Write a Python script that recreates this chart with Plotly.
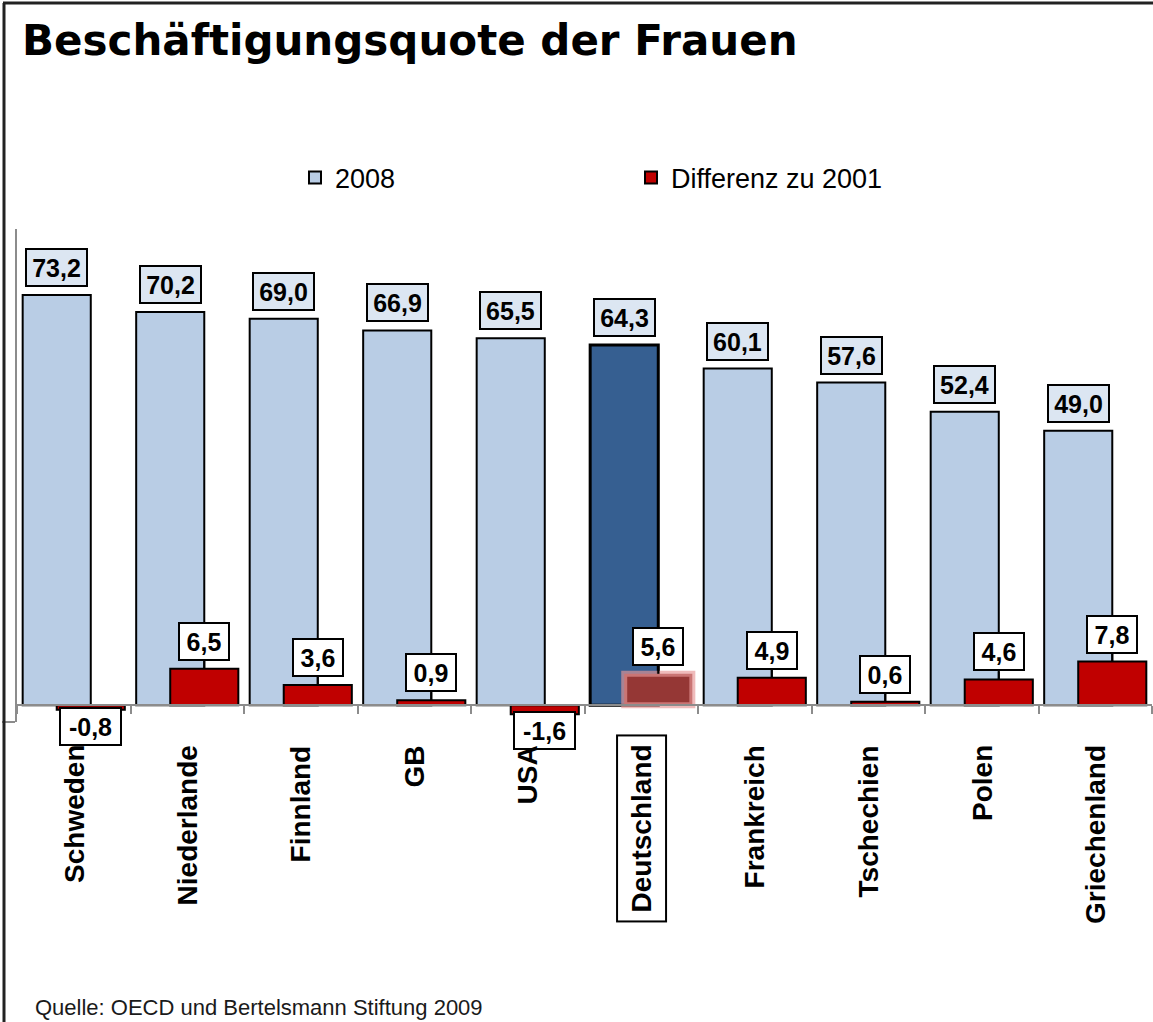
import plotly.graph_objects as go

countries = ["Schweden", "Niederlande", "Finnland", "GB", "USA", "Deutschland",
             "Frankreich", "Tschechien", "Polen", "Griechenland"]
quote_2008 = [73.2, 70.2, 69.0, 66.9, 65.5, 64.3, 60.1, 57.6, 52.4, 49.0]
diff_2001 = [-0.8, 6.5, 3.6, 0.9, -1.6, 5.6, 4.9, 0.6, 4.6, 7.8]
highlight = "Deutschland"

YMIN, YMAX = -3, 85
W, H = 1153, 1022
ML, MR, MT, MB = 17, 1, 229, 300
PW, PH = W - ML - MR, H - MT - MB

BAR_W = 0.6
OFF_BLUE = -0.45
OFF_RED = -0.15

def px_to_paper_x(px):
    return (px - ML) / PW

def px_to_paper_y(py):
    return (H - MB - py) / PH

def fmt(v):
    return f"{v:.1f}".replace(".", ",")

blue_col = ["#365F91" if c == highlight else "#B9CDE5" for c in countries]
blue_lw = [3 if c == highlight else 2 for c in countries]
red_col = ["#953735" if c == highlight else "#C00000" for c in countries]
red_lc = ["rgba(230,150,150,0.65)" if c == highlight else "black" for c in countries]
red_lw = [6 if c == highlight else 2 for c in countries]

fig = go.Figure()
fig.add_bar(name="2008", x=countries, y=quote_2008, offset=OFF_BLUE, width=BAR_W,
            marker=dict(color=blue_col, line=dict(color="black", width=blue_lw)))
fig.add_bar(name="Differenz zu 2001", x=countries, y=diff_2001, offset=OFF_RED, width=BAR_W,
            marker=dict(color=red_col, line=dict(color=red_lc, width=red_lw)))

LABEL_FONT = dict(family="Liberation Sans, Arial", size=25, color="black")
annotations = []
for i, (c, v) in enumerate(zip(countries, quote_2008)):
    t = fmt(v)
    annotations.append(dict(
        x=i + OFF_BLUE + BAR_W / 2, y=v, xref="x", yref="y", text="<b>" + t + "</b>",
        showarrow=False, yanchor="bottom", yshift=8, font=LABEL_FONT,
        bgcolor="#DCE6F2", bordercolor="black", borderwidth=2, borderpad=3,
        width=11 * len(t) + 9, height=29))
for i, (c, v) in enumerate(zip(countries, diff_2001)):
    t = fmt(v)
    xc = i + OFF_RED + BAR_W / 2
    if v >= 0:
        annotations.append(dict(
            x=xc, y=v, xref="x", yref="y", text="<b>" + t + "</b>",
            showarrow=True, arrowhead=0, arrowwidth=2, arrowcolor="black",
            ax=0, ay=-8, yanchor="bottom", standoff=0, font=LABEL_FONT,
            bgcolor="white", bordercolor="black", borderwidth=2, borderpad=3,
            width=11 * len(t) + 9, height=29))
    else:
        annotations.append(dict(
            x=xc, y=v, xref="x", yref="y", text="<b>" + t + "</b>",
            showarrow=False, yanchor="top", yshift=3, font=LABEL_FONT,
            bgcolor="white", bordercolor="black", borderwidth=2, borderpad=3,
            width=11 * len(t) + 9, height=29))

zero_pos = (0 - YMIN) / (YMAX - YMIN)
for i, c in enumerate(countries):
    hl = c == highlight
    annotations.append(dict(
        x=i, y=zero_pos, xref="x", yref="paper", text="<b>" + c + "</b>",
        textangle=-90, showarrow=False, yanchor="top",
        yshift=-29 if hl else -40,
        font=dict(family="Liberation Sans, Arial", size=28, color="black"),
        bordercolor="black" if hl else "rgba(0,0,0,0)", borderwidth=2 if hl else 0,
        borderpad=8 if hl else 0, bgcolor="white" if hl else "rgba(0,0,0,0)"))

annotations.append(dict(
    x=px_to_paper_x(33), y=px_to_paper_y(1007), xref="paper", yref="paper",
    text="Quelle: OECD und Bertelsmann Stiftung 2009", showarrow=False,
    xanchor="left", yanchor="middle",
    font=dict(family="Liberation Sans, Arial", size=22, color="#1a1a1a")))

shapes = [
    dict(type="line", xref="paper", yref="paper",
         x0=px_to_paper_x(4), x1=px_to_paper_x(4),
         y0=px_to_paper_y(1030), y1=px_to_paper_y(3),
         line=dict(color="#222222", width=3)),
    dict(type="line", xref="paper", yref="paper",
         x0=px_to_paper_x(3), x1=px_to_paper_x(1160),
         y0=px_to_paper_y(3), y1=px_to_paper_y(3),
         line=dict(color="#222222", width=3)),
]

fig.update_layout(
    width=W, height=H,
    margin=dict(l=ML, r=MR, t=MT, b=MB),
    paper_bgcolor="white", plot_bgcolor="white",
    barmode="overlay",
    title=dict(text="<b>Beschäftigungsquote der Frauen</b>",
               font=dict(family="DejaVu Sans", size=42, color="black"),
               x=22 / W, xanchor="left", xref="container",
               y=1 - 40 / H, yanchor="middle", yref="container"),
    legend=dict(orientation="h", x=px_to_paper_x(295), xanchor="left",
                y=px_to_paper_y(178), yanchor="middle",
                entrywidth=291, entrywidthmode="pixels",
                font=dict(family="Liberation Sans, Arial", size=27, color="black"),
                bgcolor="rgba(0,0,0,0)"),
    xaxis=dict(type="category", range=[-0.5, len(countries) - 0.5],
               anchor="free", position=zero_pos,
               showline=True, linecolor="#8C8C8C", linewidth=2,
               ticks="outside", tickson="boundaries", ticklen=8, tickwidth=2,
               tickcolor="#8C8C8C", showticklabels=False, showgrid=False),
    yaxis=dict(range=[YMIN, YMAX], showline=True, linecolor="#8C8C8C", linewidth=2,
               ticks="outside", tickvals=[YMIN], ticklen=13, tickwidth=2,
               tickcolor="#8C8C8C", showticklabels=False, showgrid=False,
               zeroline=False),
    annotations=annotations, shapes=shapes,
    showlegend=True,
)

fig.write_html("out.html", config={"displayModeBar": False},
               post_script="document.body.style.margin='0';document.body.style.overflow='hidden';")
